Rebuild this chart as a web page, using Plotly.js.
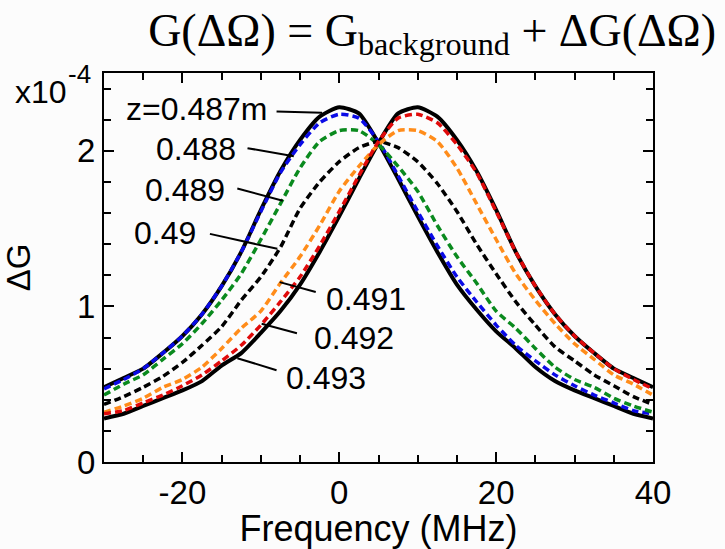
<!DOCTYPE html>
<html>
<head>
<meta charset="utf-8">
<script src="https://cdn.plot.ly/plotly-3.0.1.min.js"></script>
<style>html,body{margin:0;padding:0;background:#fcfcfc;}#chart{width:725px;height:549px;}</style>
</head>
<body>
<div id="chart"></div>
<script>
// Frequency grid (MHz)
const freq = [-30,-27.5,-25,-22.5,-20,-17.5,-15,-12.5,-10,-7.5,-5,-2.5,0,2.5,5,7.5,10,12.5,15,17.5,20,22.5,25,27.5,30,32.5,35,37.5,40];
// ΔG values in units of 1e-4, one array per z position
const z0487 = [0.48,0.54,0.60,0.70,0.81,0.95,1.13,1.35,1.62,1.87,2.07,2.22,2.28,2.24,2.05,1.82,1.58,1.35,1.14,0.98,0.84,0.73,0.61,0.52,0.46,0.41,0.36,0.31,0.28];
const z0488 = [0.47,0.53,0.60,0.70,0.81,0.95,1.13,1.35,1.61,1.86,2.04,2.18,2.235,2.21,2.06,1.84,1.61,1.39,1.19,1.03,0.88,0.75,0.65,0.56,0.49,0.43,0.38,0.33,0.31];
const z0489 = [0.43,0.50,0.56,0.66,0.76,0.89,1.04,1.21,1.43,1.66,1.89,2.06,2.13,2.13,2.04,1.90,1.74,1.52,1.32,1.15,0.97,0.86,0.73,0.61,0.53,0.48,0.41,0.36,0.32];
const z0490 = [0.37,0.42,0.48,0.55,0.64,0.75,0.87,1.04,1.19,1.38,1.63,1.80,1.93,2.02,2.06,2.02,1.93,1.79,1.61,1.40,1.21,1.03,0.88,0.74,0.65,0.56,0.49,0.42,0.37];
const z0491 = [0.32,0.36,0.41,0.48,0.53,0.61,0.73,0.86,0.97,1.15,1.32,1.52,1.74,1.90,2.04,2.13,2.13,2.06,1.89,1.66,1.43,1.21,1.04,0.89,0.76,0.66,0.56,0.50,0.43];
const z0492 = [0.31,0.33,0.38,0.43,0.49,0.56,0.65,0.75,0.88,1.03,1.19,1.39,1.61,1.84,2.06,2.21,2.235,2.18,2.04,1.86,1.61,1.35,1.13,0.95,0.81,0.70,0.60,0.53,0.47];
const z0493 = [0.28,0.31,0.36,0.41,0.46,0.52,0.62,0.70,0.83,0.97,1.14,1.35,1.58,1.82,2.05,2.24,2.28,2.22,2.07,1.87,1.62,1.35,1.13,0.95,0.81,0.70,0.60,0.54,0.48];

const seriesNames = ['0.487','0.488','0.489','0.49','0.491','0.492','0.493'];
const seriesData = [z0487,z0488,z0489,z0490,z0491,z0492,z0493];
const seriesColors = ['#000000','#0a0ae6','#0a8a1e','#000000','#ff8c1a','#e00a0a','#000000'];
const seriesDash = ['solid','7px,4px','7px,4px','7px,4px','7px,4px','7px,4px','solid'];
const seriesWidth = [4,3.5,3.5,3.5,3.5,3.5,4];

const xTickVals = [-20,0,20,40];
const yTickVals = [0,1,2];

// Label texts and pointer lines (data coordinates of label anchor and pointer ends)
const labelText = ['z=0.487m','0.488','0.489','0.49','0.491','0.492','0.493'];
const labelPos = [[-9.0,2.27,'right'],[-12.9,2.01,'right'],[-14.3,1.745,'right'],[-18.0,1.47,'right'],[-2.0,1.05,'left'],[-3.5,0.80,'left'],[-7.0,0.54,'left']];
const pointerLines = [[-8.0,2.252,-2.2,2.245],[-11.7,2.017,-5.8,1.965],[-13.0,1.758,-7.2,1.679],[-16.5,1.466,-7.9,1.37],[-3.0,1.092,-7.6,1.156],[-5.4,0.827,-9.9,0.889],[-8.0,0.59,-13.0,0.667]];

const order = [0,6,1,2,3,4,5];
const traces = order.map(i => ({
  x: freq, y: seriesData[i], type: 'scatter', mode: 'lines', name: seriesNames[i],
  line: {color: seriesColors[i], width: seriesWidth[i], dash: seriesDash[i], shape: 'spline', smoothing: 0.6},
  hoverinfo: 'skip'
}));

const font = 'Liberation Sans, Arial, sans-serif';
const annotations = labelText.map((t, i) => ({
  x: labelPos[i][0], y: labelPos[i][1], xref: 'x', yref: 'y', text: t, showarrow: false,
  xanchor: labelPos[i][2], yanchor: 'middle', font: {family: font, size: 32, color: '#000'}
}));
annotations.push({
  xref: 'paper', yref: 'paper', x: -0.165, y: 0.952, xanchor: 'left', yanchor: 'middle',
  text: 'x10', showarrow: false, font: {family: font, size: 32, color: '#000'}
});
annotations.push({
  xref: 'paper', yref: 'paper', x: -0.07, y: 0.997, xanchor: 'left', yanchor: 'middle',
  text: '-4', showarrow: false, font: {family: font, size: 26, color: '#000'}
});

const shapes = pointerLines.map(p => ({
  type: 'line', xref: 'x', yref: 'y', x0: p[0], y0: p[1], x1: p[2], y1: p[3],
  line: {color: '#000', width: 2}
}));

const axisCommon = {
  showgrid: false, zeroline: false, showline: true, linecolor: '#000', linewidth: 2,
  mirror: 'allticks', ticks: 'inside', ticklen: 10, tickwidth: 2, tickcolor: '#000',
  tickfont: {family: font, size: 33, color: '#000'}
};

const layout = {
  width: 725, height: 549,
  paper_bgcolor: '#fcfcfc', plot_bgcolor: '#fcfcfc',
  margin: {l: 104, r: 72, t: 73, b: 87},
  showlegend: false,
  title: {
    text: 'G(ΔΩ) = G<sub>background</sub> + ΔG(ΔΩ)',
    font: {family: 'Liberation Serif, Times New Roman, serif', size: 46, color: '#000'},
    x: 0.596, xanchor: 'center', y: 0.946, yanchor: 'middle', yref: 'container', xref: 'container'
  },
  xaxis: Object.assign({}, axisCommon, {
    range: [-30, 40], tickvals: xTickVals, ticktext: xTickVals.map(String),
    minor: {dtick: 5, tick0: 0, ticks: 'inside', ticklen: 7, tickwidth: 2, tickcolor: '#000'},
    title: {text: 'Frequency (MHz)', font: {family: font, size: 36, color: '#000'}, standoff: 4}
  }),
  yaxis: Object.assign({}, axisCommon, {
    range: [0, 2.5], tickvals: yTickVals, ticktext: yTickVals.map(String),
    minor: {dtick: 0.2, tick0: 0, ticks: 'inside', ticklen: 7, tickwidth: 2, tickcolor: '#000'},
    title: {text: 'ΔG', font: {family: font, size: 33, color: '#000'}, standoff: 36}
  }),
  annotations: annotations,
  shapes: shapes
};

Plotly.newPlot('chart', traces, layout, {displayModeBar: false, staticPlot: true});
</script>
</body>
</html>
